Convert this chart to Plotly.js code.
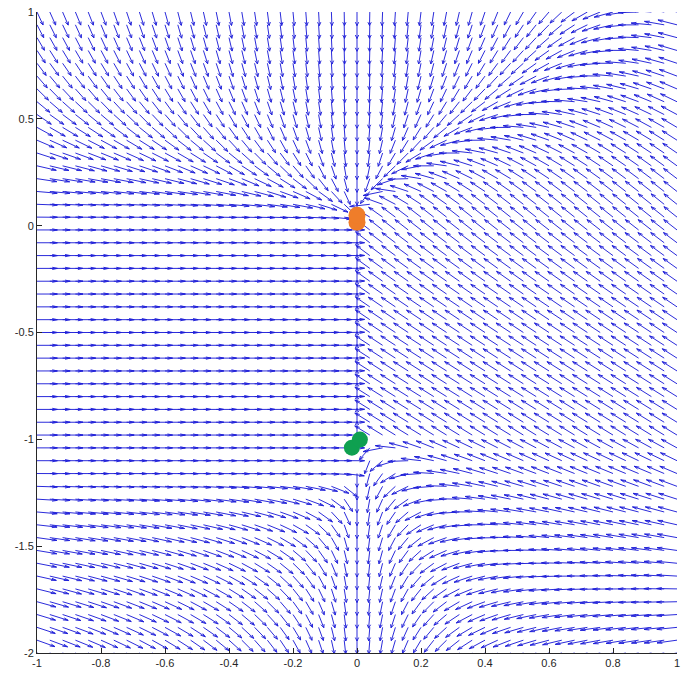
<!DOCTYPE html>
<html><head><meta charset="utf-8">
<script src="https://cdn.plot.ly/plotly-3.0.1.min.js"></script>
<style>html,body{margin:0;padding:0;background:#fff}#chart{width:681px;height:679px}</style>
</head><body><div id="chart"></div>
<script>
// sample grid of the direction field (51 x 51)
const xs = [-1,-0.96,-0.92,-0.88,-0.84,-0.8,-0.76,-0.72,-0.68,-0.64,-0.6,-0.56,-0.52,-0.48,-0.44,-0.4,-0.36,-0.32,-0.28,-0.24,-0.2,-0.16,-0.12,-0.08,-0.04,0,0.04,0.08,0.12,0.16,0.2,0.24,0.28,0.32,0.36,0.4,0.44,0.48,0.52,0.56,0.6,0.64,0.68,0.72,0.76,0.8,0.84,0.88,0.92,0.96,1];
const ys = [-2,-1.94,-1.88,-1.82,-1.76,-1.7,-1.64,-1.58,-1.52,-1.46,-1.4,-1.34,-1.28,-1.22,-1.16,-1.1,-1.04,-0.98,-0.92,-0.86,-0.8,-0.74,-0.68,-0.62,-0.56,-0.5,-0.44,-0.38,-0.32,-0.26,-0.2,-0.14,-0.08,-0.02,0.04,0.1,0.16,0.22,0.28,0.34,0.4,0.46,0.52,0.58,0.64,0.7,0.76,0.82,0.88,0.94,1];

// tick labels
const xTickVals = [-1,-0.8,-0.6,-0.4,-0.2,0,0.2,0.4,0.6,0.8,1];
const xTickText = ["-1","-0.8","-0.6","-0.4","-0.2","0","0.2","0.4","0.6","0.8","1"];
const yTickVals = [-2,-1.5,-1,-0.5,0,0.5,1];
const yTickText = ["-2","-1.5","-1","-0.5","0","0.5","1"];

// highlighted points
const orangeDotX = [0, 0];
const orangeDotY = [0.016, 0.049];
const greenDotX = [-0.016, 0.009];
const greenDotY = [-1.039, -1.001];

// direction-field model (x' and y' components)
const TOP_A = 3.2, TOP_P = 1.75;                 // steep downward flow above y = 0
const BOT_L = 0.68, BOT_L_Y = -1.15;             // downward flow low on the left half
const BOT_R = 0.89, BOT_RQ = 0.64, BOT_DECAY = 3; // downward flow below y = -1 near x = 0, right half
const SHEAR0 = 0.88, SHEAR1 = 0.3, SHEAR_K = 2.2; // upward push on the right half
const LOW_C = 1.1, LOW_R = 0.8;                  // weaker push on the lower right
const BAND_EPS = 0.003;                          // weak upward flow between y=-1 and y=0

function field(x, y) {
  const top = -TOP_A * Math.pow(Math.max(y, 0), TOP_P);
  const band = BAND_EPS * Math.max(0, -y * (y + 1));
  const below = Math.max(-1 - y, 0);
  let v;
  if (x <= 0) {
    v = top - BOT_L * Math.max(BOT_L_Y - y, 0) + band;
  } else {
    const push = SHEAR0 + SHEAR1 * Math.exp(SHEAR_K * y) - LOW_C * Math.pow(below, LOW_R);
    v = top + band - BOT_R * Math.pow(below, BOT_RQ) * Math.exp(-BOT_DECAY * x) + x * push;
  }
  return [-x, v];
}

// quiver (MATLAB-like: normalized vectors, autoscale 0.9, arrow heads)
const n = xs.length, m = ys.length;
const delx = (xs[n-1] - xs[0]) / Math.sqrt(n*m);
const dely = (ys[m-1] - ys[0]) / Math.sqrt(n*m);
const S = 0.9 * Math.sqrt(delx*delx + dely*dely);
const alpha = 0.25, beta = 0.33;
const qx = [], qy = [];
for (const y of ys) {
  for (const x of xs) {
    let [u, v] = field(x, y);
    const L = Math.hypot(u, v);
    if (L === 0) continue;
    u = u / L * S; v = v / L * S;
    qx.push(x, x + u, null,
            x + u - alpha * (u + beta * v), x + u, x + u - alpha * (u - beta * v), null);
    qy.push(y, y + v, null,
            y + v - alpha * (v - beta * u), y + v, y + v - alpha * (v + beta * u), null);
  }
}

const traces = [
  {type:'scatter', mode:'lines', x:qx, y:qy, line:{color:'#2020d8', width:0.95},
   hoverinfo:'skip', showlegend:false},
  {type:'scatter', mode:'markers', x:orangeDotX, y:orangeDotY,
   marker:{color:'#ef7d2a', size:17, line:{width:0}}, showlegend:false},
  {type:'scatter', mode:'markers', x:greenDotX, y:greenDotY,
   marker:{color:'#0fa050', size:16, line:{width:0}}, showlegend:false}
];

const axisCommon = {
  showgrid:false, zeroline:false, showline:true, linecolor:'#262626', linewidth:1,
  ticks:'inside', ticklen:5, tickcolor:'#262626', tickwidth:1,
  tickfont:{family:'Liberation Sans, Arial, sans-serif', size:11, color:'#262626'},
  mirror:false, fixedrange:true
};

const layout = {
  width:681, height:679,
  margin:{l:37, r:4, t:12, b:26, pad:0},
  paper_bgcolor:'#ffffff', plot_bgcolor:'#ffffff',
  xaxis:Object.assign({}, axisCommon, {range:[-1,1], tickmode:'array', tickvals:xTickVals, ticktext:xTickText}),
  yaxis:Object.assign({}, axisCommon, {range:[-2,1], tickmode:'array', tickvals:yTickVals, ticktext:yTickText}),
  showlegend:false
};

Plotly.newPlot('chart', traces, layout, {staticPlot:true, displayModeBar:false});
</script>
</body></html>
